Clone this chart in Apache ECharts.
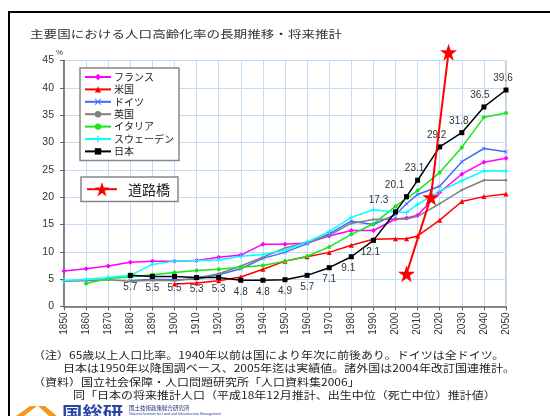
<!DOCTYPE html>
<html><head><meta charset="utf-8">
<script src="https://cdn.jsdelivr.net/npm/echarts/dist/echarts.min.js"></script>
<style>html,body{margin:0;padding:0;background:#fff;}#c{width:550px;height:416px;}</style>
</head><body><div id="c"></div>
<script>
// ---- data ----
const franceYears = [1850,1860,1870,1880,1890,1900,1910,1920,1930,1940,1950,1960,1970,1980,1990,2000,2005,2010,2020,2030,2040,2050];
const franceVals  = [6.5,6.9,7.4,8.1,8.3,8.3,8.4,9.0,9.4,11.4,11.4,11.6,12.9,13.9,13.9,16.0,16.2,16.7,20.9,24.2,26.4,27.1];
const usYears = [1900,1910,1920,1930,1940,1950,1960,1970,1980,1990,2000,2005,2010,2020,2030,2040,2050];
const usVals  = [4.1,4.3,4.7,5.4,6.8,8.3,9.1,9.9,11.2,12.3,12.4,12.4,12.9,15.8,19.2,20.1,20.6];
const deYears = [1880,1890,1900,1910,1920,1930,1940,1950,1960,1970,1980,1990,2000,2005,2010,2020,2030,2040,2050];
const deVals  = [4.7,5.0,4.9,5.0,5.8,6.9,8.8,9.9,11.5,13.3,15.6,15.0,16.8,18.8,20.5,22.0,26.5,28.9,28.3];
const ukYears = [1850,1860,1870,1880,1890,1900,1910,1920,1930,1940,1950,1960,1970,1980,1990,2000,2005,2010,2020,2030,2040,2050];
const ukVals  = [4.6,4.7,4.9,4.6,4.8,4.7,5.2,6.0,7.4,9.0,10.7,11.7,13.0,15.2,15.9,16.0,16.0,16.5,18.8,21.3,23.1,23.1];
const itYears = [1860,1870,1880,1890,1900,1910,1920,1930,1940,1950,1960,1970,1980,1990,2000,2005,2010,2020,2030,2040,2050];
const itVals  = [4.2,5.1,5.4,5.8,6.2,6.6,6.8,7.2,7.5,8.3,9.2,10.9,13.2,15.1,18.3,19.8,21.2,24.5,29.1,34.6,35.4];
const seYears = [1850,1860,1870,1880,1890,1900,1910,1920,1930,1940,1950,1960,1970,1980,1990,2000,2005,2010,2020,2030,2040,2050];
const seVals  = [4.7,5.0,5.3,5.7,7.7,8.3,8.4,8.5,9.2,9.5,10.3,11.8,13.7,16.3,17.7,17.3,17.2,18.7,21.1,23.0,24.8,24.8];
const jpYears = [1880,1890,1900,1910,1920,1930,1940,1950,1960,1970,1980,1990,2000,2005,2010,2020,2030,2040,2050];
const jpVals  = [5.7,5.5,5.5,5.3,5.3,4.8,4.8,4.9,5.7,7.1,9.1,12.1,17.3,20.1,23.1,29.2,31.8,36.5,39.6];
const bridgeYears = [2005,2016,2024];
const bridgeVals  = [6,20,46.5];
const seriesNames = ['フランス','米国','ドイツ','英国','イタリア','スウェーデン','日本'];
const bridgeName = '道路橋';
const yTicks = {min:0, max:45, step:5};
const xTicks = {min:1850, max:2050, step:10};
const titleText = '主要国における人口高齢化率の長期推移・将来推計';
const noteLines = [
  '（注）65歳以上人口比率。1940年以前は国により年次に前後あり。ドイツは全ドイツ。',
  '日本は1950年以降国調ベース、2005年迄は実績値。諸外国は2004年改訂国連推計。',
  '（資料）国立社会保障・人口問題研究所「人口資料集2006」',
  '同「日本の将来推計人口（平成18年12月推計、出生中位（死亡中位）推計値）'
];

// ---- styling ----
const JP = '"Noto Sans CJK JP", sans-serif';
const NUM = '"Liberation Sans", Arial, sans-serif';
const pair = (xs, vs) => xs.map((x, i) => [x, vs[i]]);
const STAR = 'path://M50,0 L61.8,35.1 L98.9,35.1 L68.9,56.8 L80.3,91.9 L50,70.2 L19.7,91.9 L31.1,56.8 L1.1,35.1 L38.2,35.1 Z';
const PLUS = 'path://M4,0 H6 V4 H10 V6 H6 V10 H4 V6 H0 V4 H4 Z';
const XMARK = 'path://M1,0 L5,4 L9,0 L10,1 L6,5 L10,9 L9,10 L5,6 L1,10 L0,9 L4,5 L0,1 Z';
const labelOffsetX = {1980:-3, 1990:-3, 2000:-17, 2005:-12, 2010:-3, 2020:-3, 2030:-3, 2040:-4, 2050:-3};

function lineSeries(name, data, color, symbol, size, extra) {
  return Object.assign({
    name, type: 'line', data, symbol, symbolSize: size,
    itemStyle: {color}, lineStyle: {color, width: 1.5},
    emphasis: {disabled: true}, animation: false
  }, extra || {});
}

const jpData = pair(jpYears, jpVals).map(v => {
  const yr = v[0];
  const below = yr <= 1990;
  return {
    value: v,
    label: {
      show: true, position: below ? 'bottom' : 'top', distance: 4,
      offset: [labelOffsetX[yr] || 0, 0]
    }
  };
});

const series = [
  lineSeries(seriesNames[0], pair(franceYears, franceVals), '#ff00ff', 'diamond', 5),
  lineSeries(seriesNames[1], pair(usYears, usVals), '#ff0000', 'triangle', 5),
  lineSeries(seriesNames[2], pair(deYears, deVals), '#4169ff', XMARK, 4),
  lineSeries(seriesNames[3], pair(ukYears, ukVals), '#808080', 'circle', 2.5),
  lineSeries(seriesNames[4], pair(itYears, itVals), '#19e619', 'circle', 4),
  lineSeries(seriesNames[5], pair(seYears, seVals), '#00ffff', PLUS, 5),
  lineSeries(seriesNames[6], jpData, '#000000', 'rect', 5, {
    label: {show: true, fontSize: 10, color: '#333', fontFamily: NUM,
            formatter: p => p.value[1].toFixed(1)}
  }),
  lineSeries(bridgeName, pair(bridgeYears, bridgeVals), '#ff0000', STAR, 17, {
    clip: false, z: 5, lineStyle: {color: '#ff0000', width: 2}
  })
];

const chart = echarts.init(document.getElementById('c'), null, {renderer: 'canvas'});
const graphics = [
  {type: 'rect', shape: {x: 9, y: 12, width: 700, height: 600}, style: {fill: 'none', stroke: '#000', lineWidth: 2}, silent: true},
  {type: 'text', x: 30, y: 34, scaleX: 1.27, style: {text: titleText, fontSize: 10.7, fontFamily: JP, fill: '#333', verticalAlign: 'middle'}},
  {type: 'text', x: 56, y: 53, style: {text: '%', fontSize: 8, fontFamily: NUM, fill: '#333', verticalAlign: 'middle'}},
  {type: 'text', x: 33, y: 355, scaleX: 1.2, style: {text: noteLines[0], fontSize: 10, fontFamily: JP, fill: '#222', verticalAlign: 'middle'}},
  {type: 'text', x: 63, y: 368.5, scaleX: 1.2, style: {text: noteLines[1], fontSize: 10, fontFamily: JP, fill: '#222', verticalAlign: 'middle'}},
  {type: 'text', x: 33, y: 382, scaleX: 1.2, style: {text: noteLines[2], fontSize: 10, fontFamily: JP, fill: '#222', verticalAlign: 'middle'}},
  {type: 'text', x: 73, y: 395.5, scaleX: 1.2, style: {text: noteLines[3], fontSize: 10, fontFamily: JP, fill: '#222', verticalAlign: 'middle'}},
  {type: 'polygon', shape: {points: [[16,416],[30,406],[37,406],[24,416]]}, style: {fill: '#f39a1e'}},
  {type: 'polygon', shape: {points: [[38,406],[45,406],[57,416],[49,416]]}, style: {fill: '#f39a1e'}},
  {type: 'text', x: 62, y: 404, scaleX: 1.2, style: {text: '国総研', fontSize: 17, fontWeight: 'bold', fontFamily: JP, fill: '#2b44a8', verticalAlign: 'top'}},
  {type: 'text', x: 129, y: 408, style: {text: '国土技術政策総合研究所', fontSize: 5.5, fontFamily: JP, fill: '#1a2a6a', verticalAlign: 'middle'}},
  {type: 'text', x: 129, y: 413.5, style: {text: 'National Institute for Land and Infrastructure Management', fontSize: 3.6, fontFamily: NUM, fill: '#2b44a8', verticalAlign: 'middle'}}
];

chart.setOption({
  backgroundColor: '#fff',
  animation: false,
  textStyle: {fontFamily: NUM},
  grid: {left: 64, right: 44, top: 60.5, bottom: 109.5, show: true, borderColor: '#9a9a9a', borderWidth: 1},
  xAxis: {
    type: 'value', min: xTicks.min, max: xTicks.max, interval: xTicks.step,
    axisLine: {show: true, lineStyle: {color: '#666', width: 1.5}},
    axisTick: {show: true, length: 4, lineStyle: {color: '#666'}},
    axisLabel: {rotate: 90, fontSize: 10, color: '#333', margin: 6, fontFamily: NUM,
                showMinLabel: true, showMaxLabel: true, formatter: v => String(v)},
    splitLine: {show: true, lineStyle: {color: '#c3ddf7', width: 1}}
  },
  yAxis: {
    type: 'value', min: yTicks.min, max: yTicks.max, interval: yTicks.step,
    axisLine: {show: true, lineStyle: {color: '#666', width: 1.5}},
    axisTick: {show: true, length: 4, lineStyle: {color: '#666'}},
    axisLabel: {fontSize: 10.5, color: '#333', margin: 10, fontFamily: NUM},
    splitLine: {show: true, lineStyle: {color: '#c3ddf7', width: 1}}
  },
  legend: [
    {
      data: seriesNames, orient: 'vertical', left: 80, top: 68,
      itemWidth: 26, itemHeight: 8, itemGap: 2.4, selectedMode: false,
      textStyle: {fontSize: 10, fontFamily: JP, color: '#222', padding: [0,0,0,-2]},
      backgroundColor: '#fff', borderColor: '#888', borderWidth: 1.5, borderRadius: 0,
      padding: [4, 5, 4, 4]
    },
    {
      data: [bridgeName], orient: 'vertical', left: 81, top: 177,
      itemWidth: 30, itemHeight: 18, selectedMode: false,
      textStyle: {fontSize: 14, fontFamily: JP, color: '#222', padding: [0,0,0,6]},
      backgroundColor: '#fff', borderColor: '#888', borderWidth: 1.5, borderRadius: 0,
      padding: [5, 8, 5, 5]
    }
  ],
  series,
  graphic: graphics
});
</script></body></html>
